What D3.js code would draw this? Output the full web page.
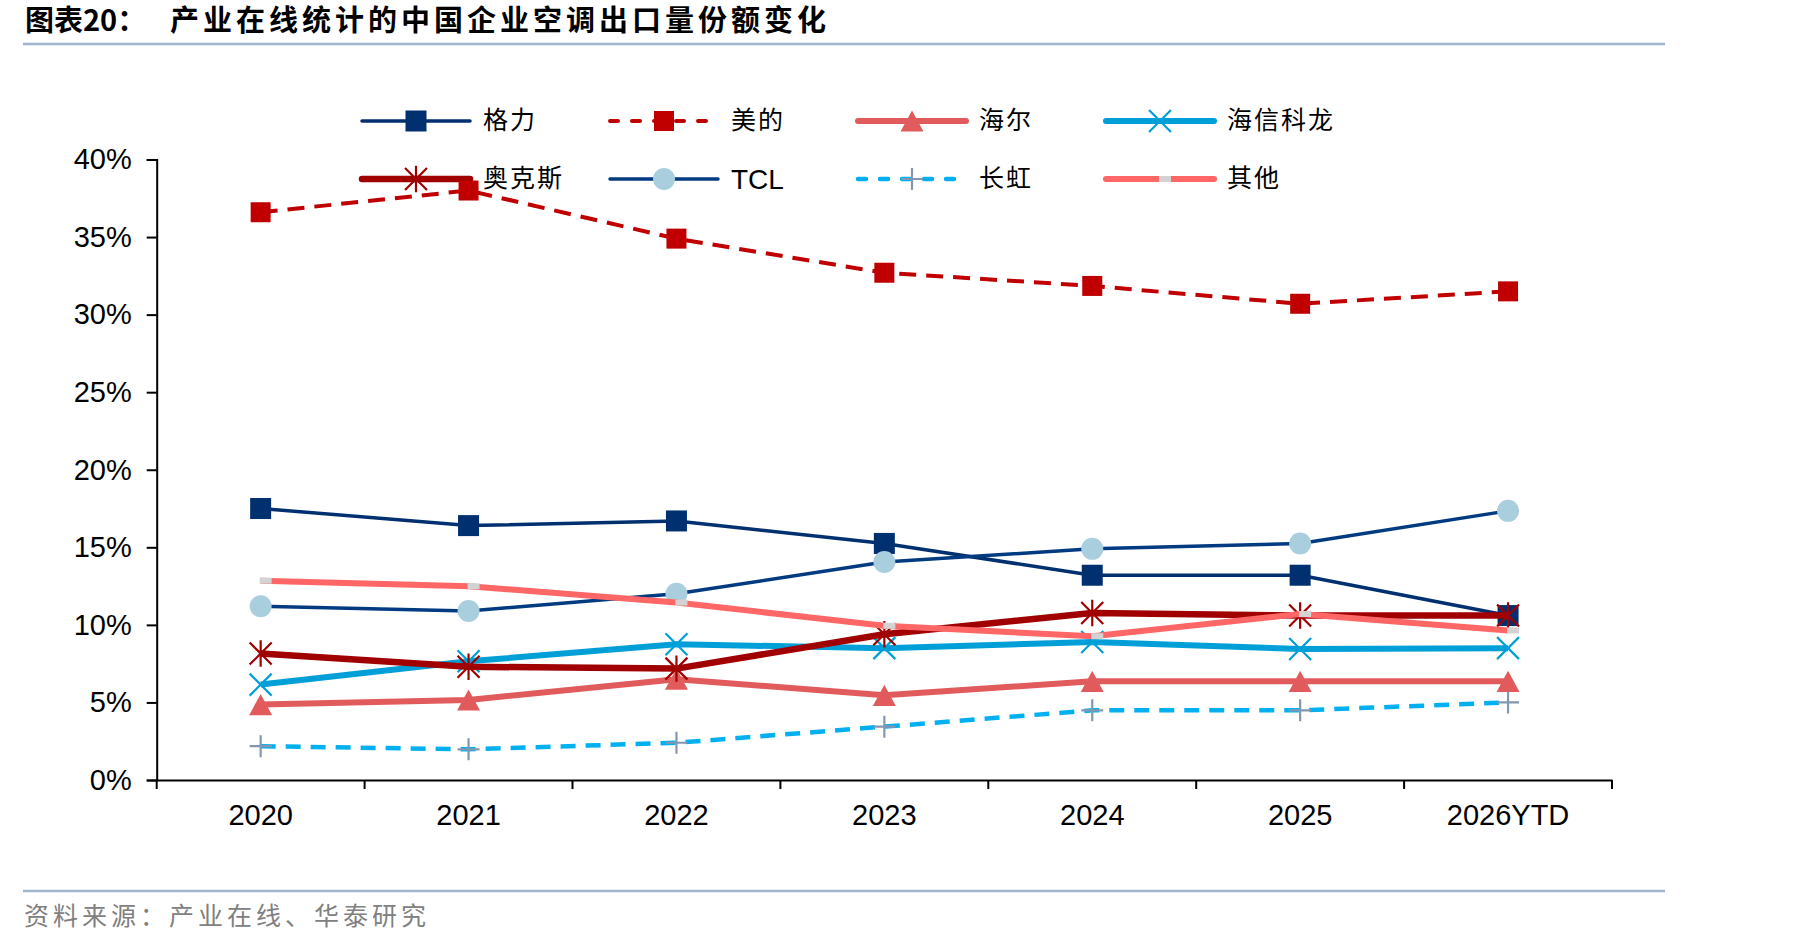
<!DOCTYPE html>
<html>
<head>
<meta charset="utf-8">
<script src="https://cdn.jsdelivr.net/npm/d3@7"></script>
<style>
  body { margin: 0; background: #fff; }
  svg { display: block; }
  .tick text { font-family: "Liberation Sans", Arial, sans-serif; font-size: 29px; fill: #000; }
</style>
</head>
<body>
<svg width="1819" height="946"></svg>
<script>
// data (%)
const categories = ['2020', '2021', '2022', '2023', '2024', '2025', '2026YTD'];
const gree      = [17.5, 16.4, 16.7, 15.25, 13.2, 13.2, 10.6];
const midea     = [36.6, 38.0, 34.9, 32.7, 31.85, 30.7, 31.5];
const haier     = [4.86, 5.16, 6.5, 5.46, 6.36, 6.36, 6.36];
const hisense   = [6.15, 7.65, 8.75, 8.5, 8.9, 8.45, 8.5];
const aux       = [8.15, 7.3, 7.18, 9.4, 10.77, 10.6, 10.6];
const tcl       = [11.2, 10.9, 12.0, 14.05, 14.9, 15.25, 17.35];
const changhong = [2.18, 1.98, 2.4, 3.44, 4.49, 4.49, 5.0];
const others    = [12.85, 12.49, 11.44, 9.94, 9.27, 10.7, 9.64];
const yTicks = [0, 5, 10, 15, 20, 25, 30, 35, 40];

const series = [
  { name: '格力', values: gree, color: '#003070', width: 3.5, marker: 'square', ms: 21, mcolor: '#003070' },
  { name: '美的', values: midea, color: '#C00000', width: 4, dash: '17,10', marker: 'square', ms: 20, mcolor: '#C00000' },
  { name: '海尔', values: haier, color: '#E15B5D', width: 6, marker: 'triangle', ms: 23, mcolor: '#E15B5D' },
  { name: '海信科龙', values: hisense, color: '#009FD8', width: 6, marker: 'x', ms: 11, mcolor: '#009FD8' },
  { name: '奥克斯', values: aux, color: '#A00000', width: 6.5, marker: 'asterisk', ms: 11, mcolor: '#A00000' },
  { name: 'TCL', values: tcl, color: '#003A80', width: 3.5, marker: 'circle', ms: 11, mcolor: '#A9CFDE' },
  { name: '长虹', values: changhong, color: '#00B0F0', width: 4.5, dash: '15,10', marker: 'plus', ms: 11, mcolor: '#8497B0' },
  { name: '其他', values: others, color: '#FF6666', width: 6, marker: 'dash', ms: 6, mcolor: '#D3D3D3' }
];

const svg = d3.select('svg');
const margin = { top: 159.5, left: 156.7, right: 1819 - 1612, bottom: 946 - 780 };
const innerWidth = 1819 - margin.left - margin.right;
const innerHeight = 946 - margin.top - margin.bottom;

// title + rules
svg.append('text')
  .attr('x', 25).attr('y', 31)
  .attr('font-family', '"Noto Sans CJK SC", sans-serif')
  .attr('font-weight', 700).attr('font-size', 29)
  .text('图表20：');
svg.append('text')
  .attr('x', 170).attr('y', 31)
  .attr('font-family', '"Noto Sans CJK SC", sans-serif')
  .attr('font-weight', 700).attr('font-size', 29)
  .attr('letter-spacing', 4)
  .text('产业在线统计的中国企业空调出口量份额变化');
svg.append('line').attr('x1', 23).attr('x2', 1665).attr('y1', 44).attr('y2', 44)
  .attr('stroke', '#A2B5CE').attr('stroke-width', 2.5);
svg.append('line').attr('x1', 23).attr('x2', 1665).attr('y1', 891).attr('y2', 891)
  .attr('stroke', '#A2B5CE').attr('stroke-width', 2.5);
svg.append('text')
  .attr('x', 24).attr('y', 925)
  .attr('font-family', '"Noto Sans CJK SC", sans-serif')
  .attr('font-size', 25).attr('fill', '#808080')
  .attr('letter-spacing', 4)
  .text('资料来源：产业在线、华泰研究');

const markerPath = (type, s) => {
  switch (type) {
    case 'x': return `M${-s},${-s}L${s},${s}M${-s},${s}L${s},${-s}`;
    case 'asterisk': return `M${-s},${-s}L${s},${s}M${-s},${s}L${s},${-s}M0,${-s * 1.2}L0,${s * 1.2}`;
    case 'plus': return `M${-s},0L${s},0M0,${-s}L0,${s}`;
  }
  return null;
};

const drawMarker = (sel, d, s) => {
  const m = s.marker;
  if (m === 'square') {
    sel.append('rect').attr('x', -s.ms / 2).attr('y', -s.ms / 2)
      .attr('width', s.ms).attr('height', s.ms).attr('fill', s.mcolor);
  } else if (m === 'triangle') {
    const h = s.ms * 0.92;
    sel.append('path').attr('d', `M0,${-h / 2}L${s.ms / 2},${h / 2}L${-s.ms / 2},${h / 2}Z`)
      .attr('fill', s.mcolor);
  } else if (m === 'circle') {
    sel.append('ellipse').attr('rx', s.ms).attr('ry', s.ms).attr('fill', s.mcolor);
  } else if (m === 'dash') {
    sel.append('rect').attr('x', -1).attr('y', -s.ms / 2)
      .attr('width', 12).attr('height', s.ms).attr('fill', s.mcolor);
  } else {
    sel.append('path').attr('d', markerPath(m, s.ms))
      .attr('fill', 'none').attr('stroke', s.mcolor).attr('stroke-width', 2.2);
  }
};

// legend
series.forEach((s, i) => {
  const col = i % 4, row = Math.floor(i / 4);
  const x0 = 362 + col * 248, y0 = 121 + row * 58;
  const lg = svg.append('g').attr('transform', `translate(${x0},${y0})`);
  lg.append('line').attr('x1', 0).attr('x2', 108)
    .attr('stroke', s.color).attr('stroke-width', s.width)
    .attr('stroke-linecap', 'round')
    .attr('stroke-dasharray', s.dash ? '8,14' : null);
  drawMarker(lg.append('g').attr('transform', 'translate(54,0)'), null, s);
  const isLatin = s.name === 'TCL';
  lg.append('text').attr('x', 121).attr('y', isLatin ? 10 : 8)
    .attr('font-family', isLatin ? '"Liberation Sans", Arial, sans-serif' : '"Noto Sans CJK SC", sans-serif')
    .attr('font-size', isLatin ? 28 : 25)
    .attr('letter-spacing', isLatin ? 0 : 2)
    .text(s.name);
});

const g = svg.append('g').attr('transform', `translate(${margin.left},${margin.top})`);

const xScale = d3.scaleBand().domain(categories).range([0, innerWidth]).padding(0);
const xc = c => xScale(c) + xScale.bandwidth() / 2;
const yScale = d3.scaleLinear().domain([0, 40]).range([innerHeight, 0]);

const yAxis = d3.axisLeft(yScale).tickValues(yTicks)
  .tickFormat(d => d + '%').tickSize(10).tickPadding(15);
const yAxisG = g.append('g').call(yAxis);
yAxisG.selectAll('line, path').attr('stroke', '#000').attr('stroke-width', 2);

const xAxis = d3.axisBottom(xScale).tickSize(0).tickPadding(24);
const xAxisG = g.append('g').attr('transform', `translate(0,${innerHeight})`).call(xAxis);
xAxisG.select('.domain').attr('stroke', '#000').attr('stroke-width', 2);
// boundary ticks between categories
const bounds = categories.map(c => xScale(c)).concat([innerWidth]);
xAxisG.selectAll('.bound').data(bounds).enter().append('line')
  .attr('class', 'bound')
  .attr('x1', d => d).attr('x2', d => d)
  .attr('y1', 0).attr('y2', 9)
  .attr('stroke', '#000').attr('stroke-width', 2);

const line = d3.line().x((d, i) => xc(categories[i])).y(d => yScale(d));

series.forEach(s => {
  const sg = g.append('g');
  sg.append('path').datum(s.values)
    .attr('d', line)
    .attr('fill', 'none')
    .attr('stroke', s.color)
    .attr('stroke-width', s.width)
    .attr('stroke-linejoin', 'round')
    .attr('stroke-dasharray', s.dash || null);
  sg.selectAll('.mk').data(s.values).enter().append('g')
    .attr('class', 'mk')
    .attr('transform', (d, i) => `translate(${xc(categories[i])},${yScale(d)})`)
    .each(function (d) { drawMarker(d3.select(this), d, s); });
});
</script>
</body>
</html>
